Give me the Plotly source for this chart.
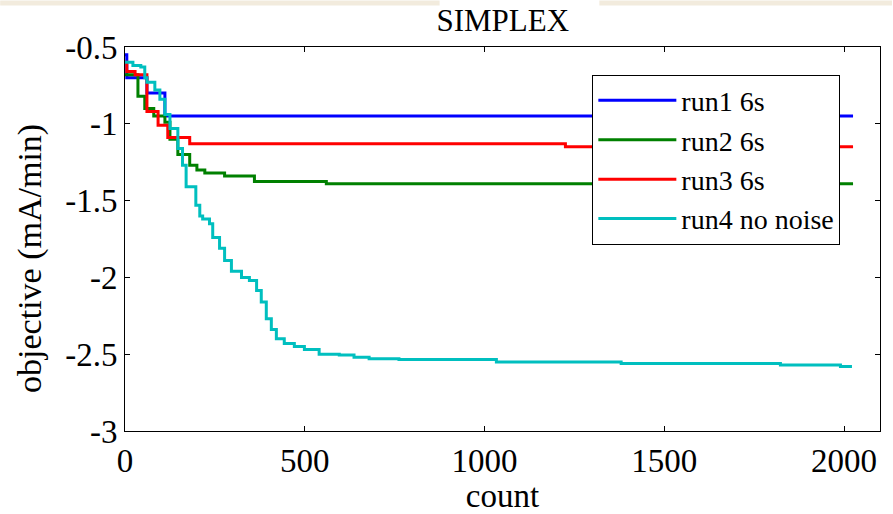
import plotly.graph_objects as go

# ---- data ----
run1_x = [0, 5, 61, 111, 2025]
run1_y = [-0.55, -0.70, -0.80, -0.95, -0.95]

run2_x = [0, 36, 55, 80, 111, 125, 147, 180, 200, 222, 277, 360, 560, 2025]
run2_y = [-0.68, -0.82, -0.90, -0.95, -0.99, -1.10, -1.20, -1.27, -1.30, -1.32, -1.34, -1.375, -1.39, -1.39]

run3_x = [0, 5, 28, 61, 92, 119, 180, 1225, 2025]
run3_y = [-0.60, -0.66, -0.68, -0.92, -1.01, -1.09, -1.13, -1.15, -1.15]

run4_x = [0, 22, 44, 55, 61, 83, 97, 111, 125, 147, 160, 170, 197, 208, 216, 235, 244, 263,
          277, 296, 324, 346, 366, 379, 393, 407, 421, 443, 471, 499, 540, 596, 637, 679,
          762, 1033, 1380, 1823, 1990, 2022]
run4_y = [-0.60, -0.62, -0.63, -0.70, -0.73, -0.78, -0.84, -0.94, -1.03, -1.16, -1.27, -1.41,
          -1.53, -1.60, -1.62, -1.65, -1.74, -1.81, -1.89, -1.96, -2.00, -2.02, -2.085, -2.16,
          -2.27, -2.34, -2.40, -2.43, -2.45, -2.47, -2.50, -2.505, -2.52, -2.53, -2.535,
          -2.55, -2.56, -2.57, -2.58, -2.58]

names = ["run1 6s", "run2 6s", "run3 6s", "run4 no noise"]
colors = ["#0000FF", "#008000", "#FF0000", "#00BFBF"]

x_ticks = [0, 500, 1000, 1500, 2000]
y_ticks = [-3, -2.5, -2, -1.5, -1, -0.5]
y_tick_labels = ["-3", "-2.5", "-2", "-1.5", "-1", "-0.5"]

FONT = "Liberation Serif"

fig = go.Figure()
for xs, ys, nm, c in zip([run1_x, run2_x, run3_x, run4_x],
                         [run1_y, run2_y, run3_y, run4_y], names, colors):
    fig.add_trace(go.Scatter(x=xs, y=ys, mode="lines", name=nm,
                             line=dict(color=c, width=3, shape="hv")))

axis_common = dict(showline=True, linecolor="black", linewidth=1, mirror="ticks",
                   ticks="inside", ticklen=5, tickcolor="black", tickwidth=1,
                   showgrid=False, zeroline=False,
                   tickfont=dict(family=FONT, size=33, color="black"))

fig.update_layout(
    width=893, height=514,
    margin=dict(l=125, r=12, t=47, b=79),
    paper_bgcolor="white", plot_bgcolor="white",
    font=dict(family=FONT),
    title=dict(text="SIMPLEX", x=0.563, xanchor="center", y=1 - 20 / 514, yanchor="middle",
               font=dict(family=FONT, size=31, color="black")),
    xaxis=dict(range=[0, 2100], tickvals=x_ticks, ticktext=[str(v) for v in x_ticks],
               title=dict(text="count", font=dict(family=FONT, size=33, color="black"), standoff=0),
               **axis_common),
    yaxis=dict(range=[-3, -0.5], tickvals=y_ticks, ticktext=y_tick_labels,
               **axis_common),
    legend=dict(x=0.619, y=0.928, xanchor="left", yanchor="top",
                bgcolor="white", bordercolor="black", borderwidth=1,
                font=dict(family=FONT, size=28, color="black"),
                itemwidth=78, tracegroupgap=0),
    showlegend=True,
    annotations=[
        dict(text="objective (mA/min)", xref="paper", yref="paper",
             x=(30 - 125) / 756, y=1 - (261 - 47) / 388, xanchor="center", yanchor="middle",
             textangle=-90, showarrow=False,
             font=dict(family=FONT, size=34, color="black")),
    ],
    shapes=[
        dict(type="rect", xref="paper", yref="paper", x0=-125 / 756, x1=(440 - 125) / 756,
             y0=1 + 42 / 388, y1=1 + 47 / 388, fillcolor="#F2EBDD", line=dict(width=0), layer="below"),
        dict(type="rect", xref="paper", yref="paper", x0=(600 - 125) / 756, x1=1 + 12 / 756,
             y0=1 + 42 / 388, y1=1 + 47 / 388, fillcolor="#F2EBDD", line=dict(width=0), layer="below"),
    ],
)

fig.write_html("out.html")
